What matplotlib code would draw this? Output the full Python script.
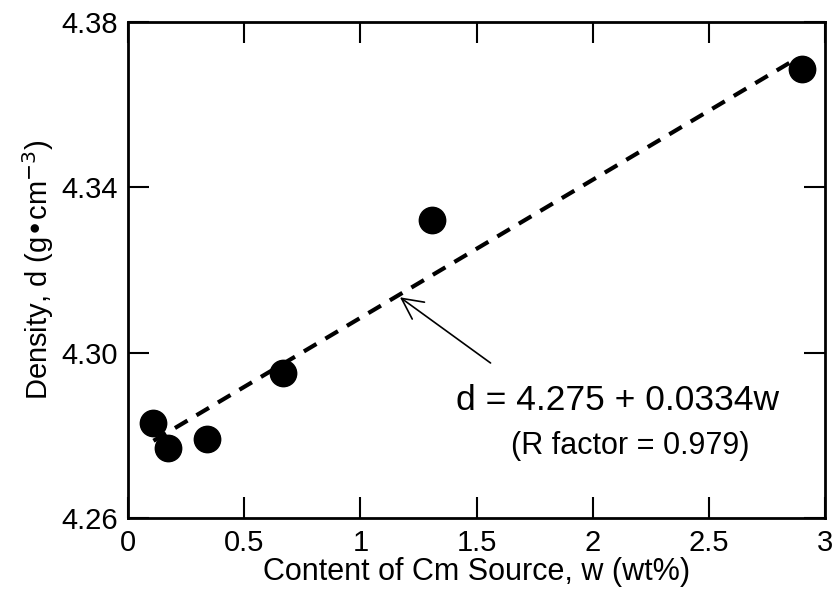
import matplotlib
matplotlib.use('Agg')
import matplotlib.pyplot as plt

plt.rcParams['font.family'] = ['Liberation Sans', 'DejaVu Sans']

# measured points
content_w = [0.107, 0.172, 0.34, 0.667, 1.307, 2.90]
density_d = [4.283, 4.277, 4.279, 4.295, 4.332, 4.3686]

# fit d = a + b*w
fit_a = 4.275
fit_b = 0.0334
fit_range = [0.11, 2.85]

x_ticks = [0, 0.5, 1, 1.5, 2, 2.5, 3]
x_tick_labels = ['0', '0.5', '1', '1.5', '2', '2.5', '3']
y_ticks = [4.26, 4.30, 4.34, 4.38]
y_tick_labels = ['4.26', '4.30', '4.34', '4.38']

fig = plt.figure(figsize=(8.36, 5.9), dpi=100)
ax = fig.add_axes([0.153, 0.122, 0.834, 0.841])

fit_y = [fit_a + fit_b * w for w in fit_range]
ax.plot(fit_range, fit_y, color='black', lw=3, linestyle=(0, (3.5, 2.5)))
ax.plot(content_w, density_d, 'o', color='black', ms=19)

# arrow pointing at the fit line
ax_w = 1.161
ax.annotate('', xy=(ax_w, fit_a + fit_b * ax_w), xytext=(1.57, 4.2971),
            arrowprops=dict(arrowstyle='->, head_length=0.5, head_width=0.25',
                            color='black', lw=1.2, mutation_scale=30))
ax.text(1.41, 4.2885, 'd = 4.275 + 0.0334w', fontsize=25.5, va='center', ha='left')
ax.text(1.65, 4.2775, '(R factor = 0.979)', fontsize=22, va='center', ha='left')

ax.set_xlim(0, 3)
ax.set_ylim(4.26, 4.38)
ax.set_xticks(x_ticks)
ax.set_xticklabels(x_tick_labels)
ax.set_yticks(y_ticks)
ax.set_yticklabels(y_tick_labels)
ax.tick_params(direction='in', length=15, width=1.5, top=True, right=True,
               labelsize=21)
ax.tick_params(axis='x', pad=8)
ax.tick_params(axis='y', pad=7)
for s in ax.spines.values():
    s.set_linewidth(2)

ax.set_xlabel('Content of Cm Source, w (wt%)', fontsize=22, labelpad=0)
ax.set_ylabel('Density, d (g\u2022cm$^{-3}$)', fontsize=21, labelpad=4)

fig.savefig('out.png', dpi=100)
